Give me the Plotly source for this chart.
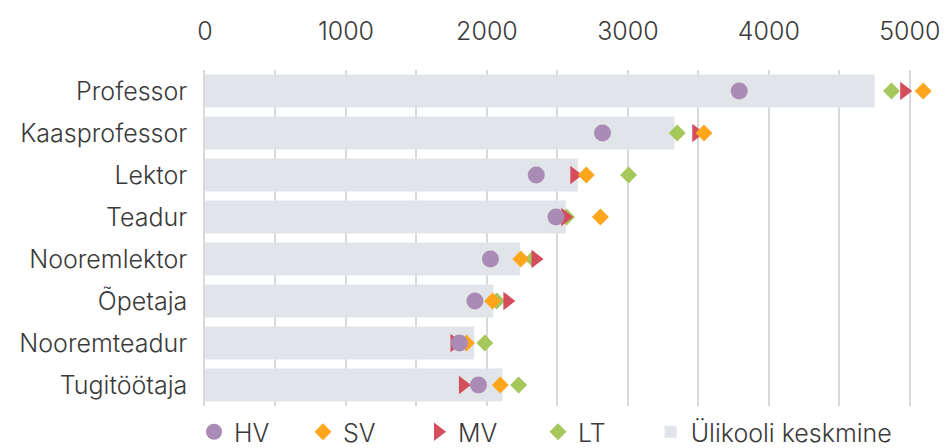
import plotly.graph_objects as go

categories = ["Professor", "Kaasprofessor", "Lektor", "Teadur",
              "Nooremlektor", "Õpetaja", "Nooremteadur", "Tugitöötaja"]

ulikooli_keskmine = [4750, 3330, 2645, 2560, 2235, 2045, 1910, 2110]
hv = [3790, 2820, 2350, 2490, 2025, 1915, 1805, 1940]
sv = [5095, 3540, 2705, 2805, 2240, 2040, 1855, 2095]
mv = [4960, 3485, 2620, 2555, 2345, 2145, 1770, 1830]
lt = [4870, 3350, 3005, 2565, 2325, 2070, 1985, 2225]

FONT = "Inter"
TXT = "#3a3a3a"
FS = 25

fig = go.Figure()

fig.add_trace(go.Bar(
    y=categories, x=ulikooli_keskmine, orientation="h",
    name="Ülikooli keskmine", marker=dict(color="#e1e4e8", line_width=0),
    legend="legend5", hoverinfo="x+y",
))

# drawing order LT, MV, SV, HV (HV on top); each series has its own legend entry
fig.add_trace(go.Scatter(
    y=categories, x=lt, mode="markers", name="LT", legend="legend4",
    marker=dict(symbol="diamond", size=13, color="#a5c75c", line_width=0),
))
fig.add_trace(go.Scatter(
    y=categories, x=mv, mode="markers", name="MV", legend="legend3",
    marker=dict(symbol="triangle-right", size=16, color="#d44d5c", line_width=0),
))
fig.add_trace(go.Scatter(
    y=categories, x=sv, mode="markers", name="SV", legend="legend2",
    marker=dict(symbol="diamond", size=13, color="#ffa61c", line_width=0),
))
fig.add_trace(go.Scatter(
    y=categories, x=hv, mode="markers", name="HV", legend="legend",
    marker=dict(symbol="circle", size=17, color="#a98bb5", line_width=0),
))

legend_x = {"legend": -0.015, "legend2": 0.1337, "legend3": 0.2906,
            "legend4": 0.4543, "legend5": 0.6080}
legends = {
    name: dict(orientation="h", x=x, xanchor="left", y=-0.0774, yanchor="middle",
               font=dict(size=FS, color=TXT, weight=300),
               itemsizing="trace", bgcolor="rgba(0,0,0,0)")
    for name, x in legend_x.items()
}

fig.update_layout(
    width=946, height=448,
    margin=dict(l=205, r=8, t=70, b=42, autoexpand=False),
    paper_bgcolor="white", plot_bgcolor="white",
    font=dict(family=FONT, size=FS, color=TXT, weight=300),
    bargap=0.21,
    showlegend=True,
    **legends,
    xaxis=dict(
        side="top", range=[0, 5200], dtick=1000, tick0=0,
        showgrid=True, gridcolor="#d9d9d9", gridwidth=1.5,
        minor=dict(dtick=500, showgrid=True, gridcolor="#d9d9d9", gridwidth=1.5),
        zeroline=False, showline=False, ticks="",
        ticklabelstandoff=24, automargin=False,
        tickfont=dict(size=FS, color=TXT, weight=300),
    ),
    yaxis=dict(
        categoryorder="array", categoryarray=categories,
        range=[len(categories) - 0.5, -0.5],
        showgrid=False, zeroline=False,
        showline=True, linecolor="#d9d9d9", linewidth=1.5,
        ticks="", ticklabelstandoff=11, automargin=False,
        tickfont=dict(size=FS, color=TXT, weight=300),
    ),
)

fig.write_html("out.html")
